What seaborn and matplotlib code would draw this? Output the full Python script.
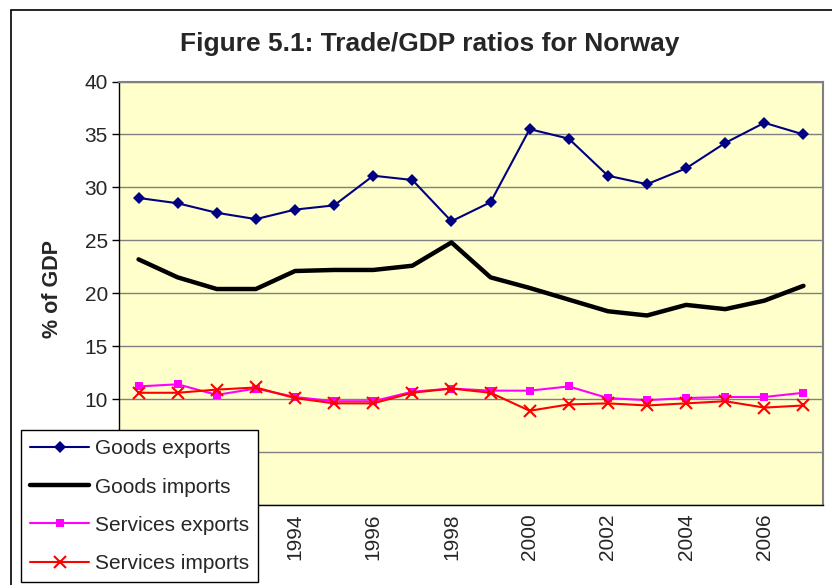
import matplotlib
matplotlib.use("Agg")
import matplotlib.pyplot as plt
import matplotlib.patches as mpatches
from matplotlib.ticker import FixedLocator
import seaborn as sns
import pandas as pd

years = list(range(1990, 2008))
goods_exports = [29.0, 28.5, 27.6, 27.0, 27.9, 28.3, 31.1, 30.7, 26.8, 28.6,
                 35.5, 34.6, 31.1, 30.3, 31.8, 34.2, 36.1, 35.0]
goods_imports = [23.2, 21.5, 20.4, 20.4, 22.1, 22.2, 22.2, 22.6, 24.8, 21.5,
                 20.5, 19.4, 18.3, 17.9, 18.9, 18.5, 19.3, 20.7]
services_exports = [11.2, 11.4, 10.4, 11.0, 10.2, 9.8, 9.8, 10.7, 11.0, 10.8,
                    10.8, 11.2, 10.1, 9.9, 10.1, 10.2, 10.2, 10.6]
services_imports = [10.6, 10.6, 10.9, 11.1, 10.1, 9.6, 9.6, 10.6, 11.0, 10.6,
                    8.9, 9.5, 9.6, 9.4, 9.6, 9.8, 9.2, 9.4]
tick_years = list(range(1990, 2007, 2))
y_ticks = list(range(0, 41, 5))

sns.set_style("white")
plt.rcParams['font.family'] = ['Liberation Sans', 'DejaVu Sans']

df = pd.DataFrame({
    'year': years,
    'Goods exports': goods_exports,
    'Goods imports': goods_imports,
    'Services exports': services_exports,
    'Services imports': services_imports,
})

W, H = 832, 585
fig = plt.figure(figsize=(W / 100, H / 100), dpi=100)
ax = fig.add_axes([119 / W, 1 - 505 / H, (823 - 119) / W, (505 - 81.5) / H])
ax.set_facecolor('#FFFFCC')

styles = {
    'Goods exports': dict(color='#000080', lw=1.5, marker='D', ms=6.5, mew=0),
    'Goods imports': dict(color='black', lw=3.2, marker=None),
    'Services exports': dict(color='#FF00FF', lw=1.5, marker='s', ms=6, mew=0),
    'Services imports': dict(color='#FF0000', lw=1.5, marker='x', ms=9, mew=1.5),
}
for name, st in styles.items():
    sns.lineplot(data=df, x='year', y=name, ax=ax, color=st['color'],
                 linewidth=st['lw'], marker=st['marker'],
                 markersize=st.get('ms', 0), markeredgewidth=st.get('mew', 0),
                 markeredgecolor=st['color'], label=name, zorder=3)

handles, labels = ax.get_legend_handles_labels()
ax.get_legend().remove()

ax.set_xlim(1989.5, 2007.5)
ax.set_ylim(0, 40)
# labels under the legend box (0, 5, 1990, 1992) are hidden in the original
ax.yaxis.set_major_locator(FixedLocator(y_ticks))
ax.set_yticklabels(['' if v < 10 else str(v) for v in y_ticks])
ax.xaxis.set_major_locator(FixedLocator(tick_years))
ax.xaxis.set_minor_locator(FixedLocator([y + 0.5 for y in range(1989, 2008)]))
ax.set_xticklabels(['' if y < 1994 else str(y) for y in tick_years], rotation=90)
ax.set_xlabel('')
ax.set_ylabel('')
ax.grid(axis='y', color='#808080', lw=1, zorder=0)
ax.set_axisbelow(True)

ax.tick_params(axis='x', which='major', length=0, labelsize=15, pad=6)
ax.tick_params(axis='x', which='minor', length=5, width=1, color='black', direction='out')
ax.tick_params(axis='y', which='major', length=5, width=1, color='black',
               direction='out', labelsize=15, pad=3, left=True)

for side in ['top', 'right']:
    ax.spines[side].set_color('#808080')
    ax.spines[side].set_linewidth(1.5)
for side in ['left', 'bottom']:
    ax.spines[side].set_color('black')
    ax.spines[side].set_linewidth(1)

fig.text(430 / W, 1 - 44 / H, 'Figure 5.1: Trade/GDP ratios for Norway',
         ha='center', va='center', fontsize=19, fontweight='bold')
fig.text(52 / W, 1 - 289 / H, '% of GDP', rotation=90, ha='center', va='center',
         fontsize=15.5, fontweight='bold')

leg = fig.legend(handles, labels, loc='upper left',
                 bbox_to_anchor=(21 / W, 1 - 430 / H), bbox_transform=fig.transFigure,
                 fontsize=15, frameon=True, fancybox=False, framealpha=1,
                 edgecolor='black', handlelength=2.8, handletextpad=0.3,
                 labelspacing=0.92, borderpad=0.45, borderaxespad=0)
leg.get_frame().set_linewidth(1)

fig.patches.append(mpatches.Rectangle((11 / W, -0.1), 1.2, 1 - 10 / H + 0.1,
                                      transform=fig.transFigure, fill=False,
                                      edgecolor='black', lw=1.2))

fig.savefig('out.png', dpi=100)
